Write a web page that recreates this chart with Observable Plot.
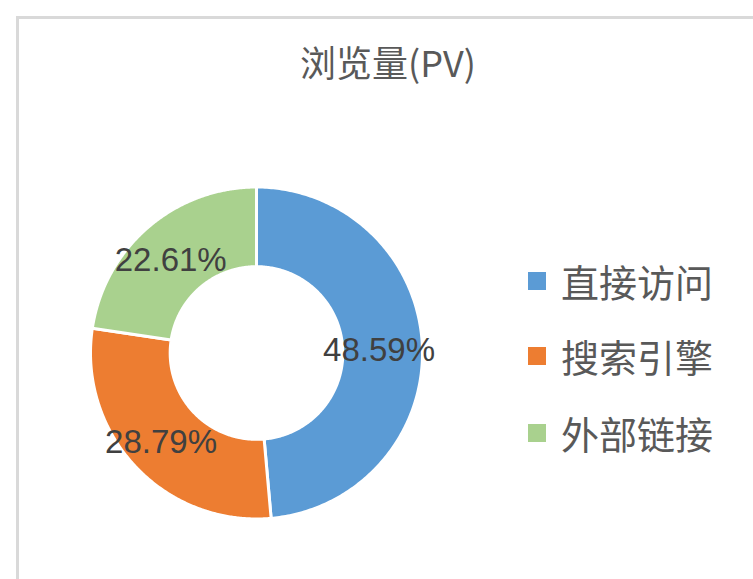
<!DOCTYPE html>
<html>
<head>
<meta charset="utf-8">
<script src="https://cdn.jsdelivr.net/npm/d3@7"></script>
<script src="https://cdn.jsdelivr.net/npm/@observablehq/plot@0.6"></script>
<style>
  html, body { margin: 0; padding: 0; background: #fff; overflow: hidden; }
  #wrap { position: relative; width: 753px; height: 579px; overflow: hidden; }
  #border { position: absolute; left: 16px; top: 16px; width: 900px; height: 800px;
            border-left: 3px solid #d9d9d9; border-top: 3px solid #d9d9d9; }
  #title { position: absolute; left: 0; width: 776px; top: 36px; text-align: center;
           font-family: "Noto Sans CJK SC", sans-serif; font-size: 36px; color: #595959; line-height: 50px; }
  #chart { position: absolute; left: 0; top: 0; }
  #legend { position: absolute; left: 528px; top: 0; font-family: "Noto Sans CJK SC", sans-serif;
            font-size: 38px; color: #595959; }
  .item { position: absolute; left: 0; white-space: nowrap; height: 50px; line-height: 50px; }
  .sw { position: absolute; left: 0; top: 16px; width: 18px; height: 18px; }
  .lab { position: absolute; left: 33px; top: 0; }
</style>
</head>
<body>
<div id="wrap">
  <div id="border"></div>
  <div id="chart"></div>
  <div id="title"></div>
  <div id="legend"></div>
</div>
<script>
const title = "浏览量(PV)";
const categories = ["直接访问", "搜索引擎", "外部链接"];
const values = [48.59, 28.79, 22.61];
const labels = ["48.59%", "28.79%", "22.61%"];
const colors = ["#5B9BD5", "#ED7D31", "#A9D18E"];

const cx = 256.5, cy = 353, R = 166;
const innerRatio = 0.52;

const total = d3.sum(values);
let acc = 0;
const slices = categories.map((c, i) => {
  const a0 = acc / total * 2 * Math.PI;
  acc += values[i];
  const a1 = acc / total * 2 * Math.PI;
  const am = (a0 + a1) / 2, rm = (1 + innerRatio) / 2;
  return {cat: c, value: values[i], label: labels[i], a0, a1,
          lx: rm * Math.sin(am), ly: rm * Math.cos(am)};
});

const samples = [];
for (const s of slices) {
  const n = 240;
  for (let k = 0; k <= n; k++) {
    const a = s.a0 + (s.a1 - s.a0) * k / n;
    samples.push({cat: s.cat,
      ox: Math.sin(a), oy: Math.cos(a),
      ix: innerRatio * Math.sin(a), iy: innerRatio * Math.cos(a)});
  }
}

const plot = Plot.plot({
  width: 753, height: 579, margin: 0,
  style: {background: "transparent"},
  x: {domain: [-1, 1], range: [cx - R, cx + R], axis: null},
  y: {domain: [-1, 1], range: [cy + R, cy - R], axis: null},
  color: {domain: categories, range: colors},
  marks: [
    Plot.area(samples, {x1: "ox", y1: "oy", x2: "ix", y2: "iy", z: "cat", fill: "cat",
      stroke: "white", strokeWidth: 3}),
    Plot.text(slices, {x: "lx", y: "ly", text: "label", fill: "#404040",
      fontSize: 33, fontFamily: "Liberation Sans, Arial, sans-serif", dx: -4, dy: 3})
  ]
});
document.getElementById("chart").appendChild(plot);
document.getElementById("title").textContent = title;

const legend = document.getElementById("legend");
const rowY = [256, 331, 408];
categories.forEach((c, i) => {
  const it = document.createElement("div");
  it.className = "item";
  it.style.top = rowY[i] + "px";
  const sw = document.createElement("div");
  sw.className = "sw";
  sw.style.background = colors[i];
  const lb = document.createElement("span");
  lb.className = "lab";
  lb.textContent = c;
  it.appendChild(sw); it.appendChild(lb);
  legend.appendChild(it);
});
</script>
</body>
</html>
